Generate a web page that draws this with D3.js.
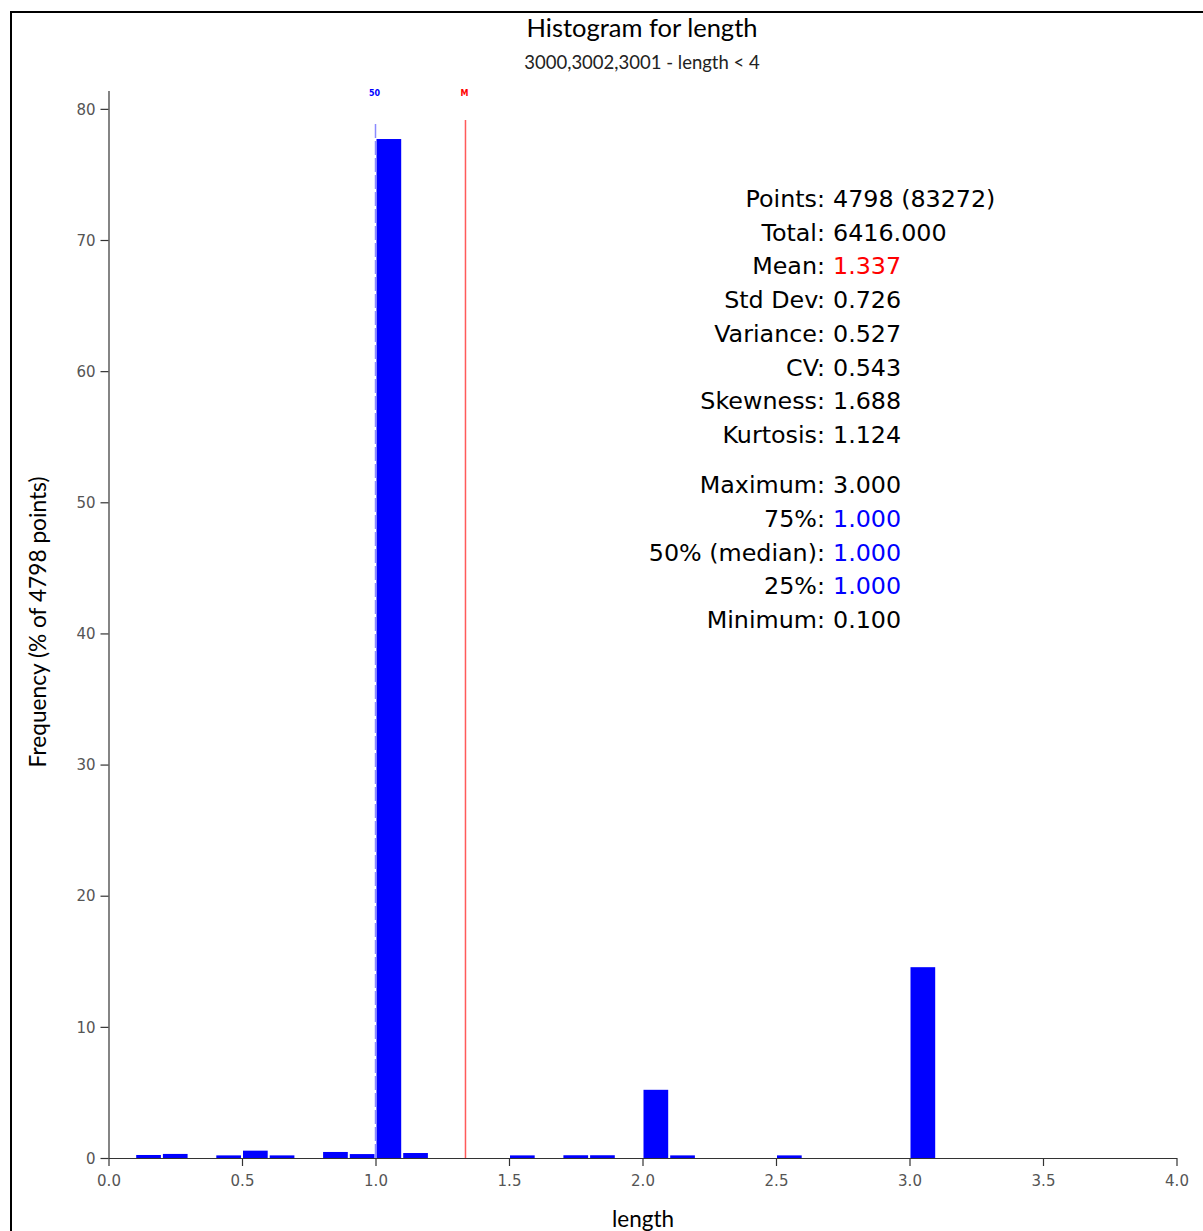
<!DOCTYPE html>
<html>
<head>
<meta charset="utf-8">
<script src="https://cdn.jsdelivr.net/npm/d3@7"></script>
<style>
  html, body { margin: 0; padding: 0; background: #fff; }
  svg { display: block; }
</style>
</head>
<body>
<svg id="chart" width="1203" height="1231"></svg>
<script>
// Histogram bins (lower edge, width 0.1) and frequency in % of points
const binStarts = [0.1, 0.2, 0.4, 0.5, 0.6, 0.8, 0.9, 1.0, 1.1, 1.5, 1.7, 1.8, 2.0, 2.1, 2.5, 3.0];
const binFreq   = [0.23, 0.31, 0.2, 0.56, 0.2, 0.46, 0.3, 77.7, 0.38, 0.2, 0.21, 0.21, 5.2, 0.2, 0.2, 14.55];
const binWidth = 0.1;

const xTicks = [0, 0.5, 1, 1.5, 2, 2.5, 3, 3.5, 4];
const yTicks = [0, 10, 20, 30, 40, 50, 60, 70, 80];

const statLabels = ["Points:", "Total:", "Mean:", "Std Dev:", "Variance:", "CV:", "Skewness:", "Kurtosis:",
                    "Maximum:", "75%:", "50% (median):", "25%:", "Minimum:"];
const statValues = ["4798 (83272)", "6416.000", "1.337", "0.726", "0.527", "0.543", "1.688", "1.124",
                    "3.000", "1.000", "1.000", "1.000", "0.100"];
const statColors = ["#000", "#000", "#ff0000", "#000", "#000", "#000", "#000", "#000",
                    "#000", "#0000ff", "#0000ff", "#0000ff", "#000"];

const meanValue = 1.337;
const quartileValue = 1.0;

const svg = d3.select("#chart");

// outer frame
svg.append("rect")
  .attr("x", 11).attr("y", 12).attr("width", 1220).attr("height", 1240)
  .attr("fill", "none").attr("stroke", "#000").attr("stroke-width", 2);

const x = d3.scaleLinear().domain([0, 4]).range([108.5, 1176.5]);
const y = d3.scaleLinear().domain([0, 81.4]).range([1158, 90.5]);

// bars
svg.append("g").selectAll("rect").data(binStarts).join("rect")
  .attr("x", d => x(d) + 1)
  .attr("width", d => x(d + binWidth) - x(d) - 2)
  .attr("y", (d, i) => y(binFreq[i]))
  .attr("height", (d, i) => y(0) - y(binFreq[i]))
  .attr("fill", "#0000ff");

// quartile and mean marker lines
svg.append("line")
  .attr("x1", x(quartileValue)).attr("x2", x(quartileValue))
  .attr("y1", 124).attr("y2", y(0))
  .attr("stroke", "#8a8aff").attr("stroke-width", 1.5)
  .attr("stroke-dasharray", "14,3");
svg.append("line")
  .attr("x1", x(meanValue)).attr("x2", x(meanValue))
  .attr("y1", 120).attr("y2", y(0))
  .attr("stroke", "#ff5a5a").attr("stroke-width", 1.5);

svg.append("text")
  .attr("x", x(quartileValue) - 1).attr("y", 96)
  .attr("text-anchor", "middle")
  .attr("font-family", "DejaVu Sans").attr("font-size", 8).attr("font-weight", "bold")
  .attr("fill", "#0000ff").text("50");
svg.append("text")
  .attr("x", x(meanValue) - 1).attr("y", 96)
  .attr("text-anchor", "middle")
  .attr("font-family", "DejaVu Sans").attr("font-size", 8).attr("font-weight", "bold")
  .attr("fill", "#ff0000").text("M");

// axes
const xAxis = svg.append("g")
  .attr("transform", `translate(0,${y(0)})`)
  .call(d3.axisBottom(x).tickValues(xTicks).tickFormat(d3.format(".1f")).tickSize(8).tickSizeOuter(0));
const yAxis = svg.append("g")
  .attr("transform", `translate(${x(0)},0)`)
  .call(d3.axisLeft(y).tickValues(yTicks).tickFormat(d3.format("d")).tickSize(8).tickSizeOuter(0));

[xAxis, yAxis].forEach(g => {
  g.selectAll("path, line").attr("stroke", "#333").attr("stroke-width", 1.2);
  g.selectAll("text")
    .attr("font-family", "DejaVu Sans").attr("font-size", 15).attr("fill", "#555");
});
xAxis.selectAll("text").attr("dy", "1.1em");
yAxis.selectAll("text").attr("x", -13).attr("dy", "0.35em");

// titles
svg.append("text")
  .attr("x", 642).attr("y", 37).attr("text-anchor", "middle")
  .attr("font-family", "Lato").attr("font-size", 25.5).attr("fill", "#000")
  .text("Histogram for length");
svg.append("text")
  .attr("x", 642).attr("y", 69).attr("text-anchor", "middle")
  .attr("font-family", "Lato").attr("font-size", 18.5).attr("fill", "#222")
  .text("3000,3002,3001 - length < 4");
svg.append("text")
  .attr("x", 643).attr("y", 1227).attr("text-anchor", "middle")
  .attr("font-family", "Lato").attr("font-size", 22.5).attr("fill", "#000")
  .text("length");
svg.append("text")
  .attr("transform", "translate(46,622) rotate(-90)")
  .attr("text-anchor", "middle")
  .attr("font-family", "Lato").attr("font-size", 22.7).attr("fill", "#000")
  .text("Frequency (% of 4798 points)");

// statistics block
const statBaseline = i => 207 + i * 33.7 + (i >= 8 ? 16.5 : 0);
const stats = svg.append("g").attr("font-family", "DejaVu Sans").attr("font-size", 23.8);
stats.selectAll("text.lbl").data(statLabels).join("text")
  .attr("class", "lbl")
  .attr("x", 825).attr("y", (d, i) => statBaseline(i))
  .attr("text-anchor", "end").attr("fill", "#000")
  .text(d => d);
stats.selectAll("text.val").data(statValues).join("text")
  .attr("class", "val")
  .attr("x", 833).attr("y", (d, i) => statBaseline(i))
  .attr("fill", (d, i) => statColors[i])
  .text(d => d);
</script>
</body>
</html>
